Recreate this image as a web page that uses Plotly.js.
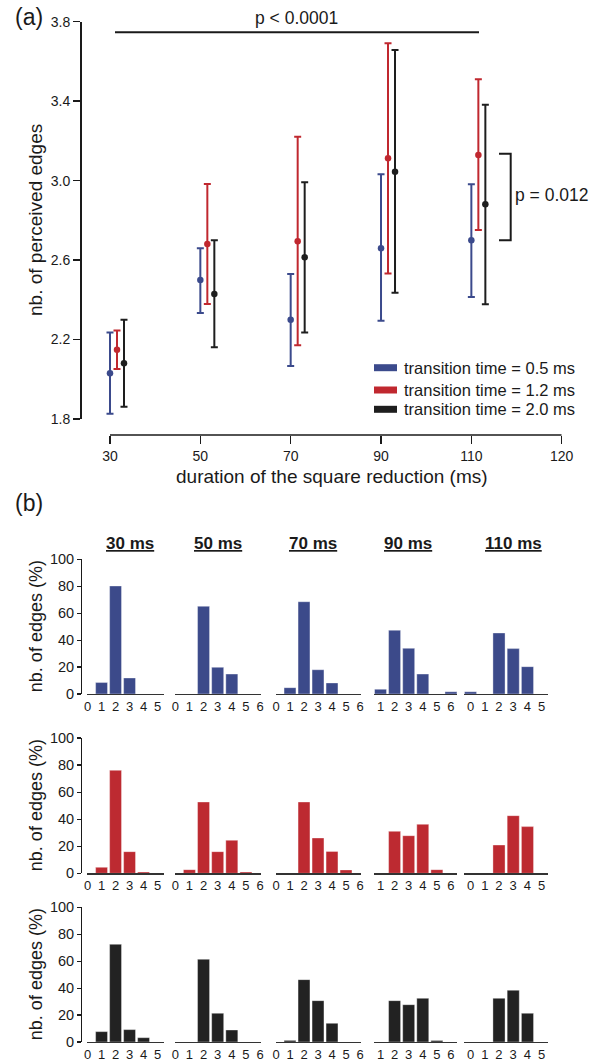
<!DOCTYPE html>
<html><head><meta charset="utf-8">
<script src="https://cdn.plot.ly/plotly-3.0.1.min.js"></script>
<style>html,body{margin:0;padding:0;background:#fff}</style>
</head><body><div id="chart" style="width:597px;height:1061px"></div>
<script>
// ---------- data : panel (a) ----------
const durations = ['30', '50', '70', '90', '110'];
const xTickLabels = ['30', '50', '70', '90', '110', '120'];
const yTickValsA = [1.8, 2.2, 2.6, 3.0, 3.4, 3.8];
const seriesNames = ['transition time = 0.5 ms', 'transition time = 1.2 ms', 'transition time = 2.0 ms'];
const mean05 = [2.03, 2.50, 2.30, 2.66, 2.70];
const upper05 = [2.236, 2.659, 2.530, 3.032, 2.982];
const lower05 = [1.826, 2.333, 2.067, 2.295, 2.414];
const mean12 = [2.148, 2.681, 2.695, 3.112, 3.129];
const upper12 = [2.245, 2.983, 3.221, 3.691, 3.510];
const lower12 = [2.052, 2.379, 2.171, 2.532, 2.752];
const mean20 = [2.081, 2.429, 2.614, 3.045, 2.881];
const upper20 = [2.299, 2.700, 2.992, 3.658, 3.382];
const lower20 = [1.862, 2.161, 2.235, 2.435, 2.378];
const pAllText = 'p < 0.0001';
const pTransText = 'p = 0.012';

// ---------- data : panel (b) ----------
const bins30 = [0, 1, 2, 3, 4, 5];
const bins50 = [0, 1, 2, 3, 4, 5, 6];
const bins70 = [0, 1, 2, 3, 4, 5, 6];
const bins90 = [1, 2, 3, 4, 5, 6];
const bins110 = [0, 1, 2, 3, 4, 5];
const yTickValsB = [0, 20, 40, 60, 80, 100];

const blue30 = [0, 8.5, 80.2, 11.9, 0, 0];
const blue50 = [0, 0, 65.1, 19.8, 14.8, 0, 0];
const blue70 = [0, 4.7, 68.5, 18.0, 8.2, 0, 0];
const blue90 = [3.5, 47.3, 33.9, 14.8, 0, 1.7];
const blue110 = [1.7, 0, 45.3, 33.7, 20.3, 0];

const red30 = [0, 4.4, 76.1, 16.0, 1.0, 0];
const red50 = [0, 2.7, 52.7, 16.0, 24.4, 1.0, 0];
const red70 = [0, 0, 52.7, 26.1, 16.2, 2.5, 0];
const red90 = [0, 31.0, 27.8, 36.2, 2.7, 0];
const red110 = [0, 0, 20.9, 42.6, 34.5, 0];

const black30 = [0, 7.7, 72.5, 9.2, 3.2, 0];
const black50 = [0, 0, 61.4, 21.3, 8.9, 0, 0];
const black70 = [0, 1.2, 46.3, 30.7, 13.9, 0, 0];
const black90 = [0, 30.7, 27.7, 32.4, 1.2, 0];
const black110 = [0, 0, 32.4, 38.4, 21.3, 0];

// ---------- styling / geometry ----------
const W = 597, H = 1061;
const FONT = '"Liberation Sans", Arial, Helvetica, sans-serif';
const TXT = '#1a1a1a';
const COLORS = ['#3b4a8c', '#c0282f', '#1e1e1e'];
const BARCOLORS = ['#3c4a8a', '#bd2a31', '#222222'];
const px = v => v / W;
const py = v => 1 - v / H;
const UNIT = 90.34;           // px per category step in panel (a)
const PADL = 0.12;            // extra range on the left so the first error bar is not clipped

const means = [mean05, mean12, mean20];
const uppers = [upper05, upper12, upper20];
const lowers = [lower05, lower12, lower20];
const offsets = [0, 0.0775, 0.155];

const traces = [];
means.forEach((m, k) => {
  traces.push({
    type: 'scatter', mode: 'markers', name: seriesNames[k],
    x: durations.map((d, i) => i + offsets[k]),
    y: m,
    marker: {color: COLORS[k], size: 6.5},
    error_y: {
      type: 'data', symmetric: false,
      array: uppers[k].map((u, i) => u - m[i]),
      arrayminus: lowers[k].map((l, i) => m[i] - l),
      color: COLORS[k], thickness: 2, width: 3.5
    },
    cliponaxis: false, showlegend: false, hoverinfo: 'skip',
    xaxis: 'x', yaxis: 'y'
  });
});

const binsList = [bins30, bins50, bins70, bins90, bins110];
const rowsData = [
  [blue30, blue50, blue70, blue90, blue110],
  [red30, red50, red70, red90, red110],
  [black30, black50, black70, black90, black110]
];
const colDomPx = [[87, 164], [175, 260.5], [276, 361], [374.3, 457.3], [464.3, 547.7]];
const colRanges = [[-0.04, 5.46], [-0.02, 6.03], [0, 6.07], [0.56, 6.45], [-0.435, 5.42]];
const rowDomPx = [[559.3, 694], [738, 873.3], [907.3, 1042]];
const colTitleX = [129.7, 217.8, 312.8, 408.3, 513];

const layout = {
  width: W, height: H,
  margin: {l: 0, r: 0, t: 0, b: 0},
  paper_bgcolor: '#fff', plot_bgcolor: 'rgba(0,0,0,0)',
  font: {family: FONT, color: TXT, size: 14},
  showlegend: false,
  bargap: 0,
  xaxis: {
    domain: [px(110 - PADL * UNIT), px(561.7)], range: [-PADL, 5],
    anchor: 'free', position: py(435),
    tickvals: xTickLabels.map((t, i) => i), ticktext: xTickLabels,
    ticks: 'outside', ticklen: 8, tickwidth: 1.5, tickcolor: TXT,
    showline: false,
    showgrid: false, zeroline: false, fixedrange: true,
    tickfont: {size: 14, family: FONT, color: TXT}
  },
  yaxis: {
    domain: [py(419), py(21.7)], range: [1.8, 3.8],
    anchor: 'free', position: px(80),
    tickvals: yTickValsA, ticktext: yTickValsA.map(v => v.toFixed(1)),
    ticks: 'outside', ticklen: 7, tickwidth: 1.5, tickcolor: TXT,
    showline: true, linewidth: 1.5, linecolor: TXT,
    showgrid: false, zeroline: false, fixedrange: true,
    tickfont: {size: 14, family: FONT, color: TXT}
  },
  shapes: [],
  annotations: []
};

// detached x-axis line of panel (a), from first to last tick
layout.shapes.push({
  type: 'line', xref: 'x', yref: 'paper', x0: 0, x1: xTickLabels.length - 1,
  y0: py(435), y1: py(435), line: {color: TXT, width: 1.5}
});

// panel b axes and traces
rowDomPx.forEach((rd, r) => {
  const yid = 2 + r;
  layout['yaxis' + yid] = {
    domain: [py(rd[1]), py(rd[0])], range: [0, 100],
    anchor: 'free', position: px(81),
    tickvals: yTickValsB,
    ticks: 'outside', ticklen: 4, tickwidth: 1.2, tickcolor: TXT,
    showline: true, linewidth: 1.3, linecolor: TXT,
    showgrid: false, zeroline: false, fixedrange: true,
    tickfont: {size: 14.5, family: FONT, color: TXT}
  };
  colDomPx.forEach((cd, c) => {
    const xid = 2 + r * 5 + c;
    layout['xaxis' + xid] = {
      domain: [px(cd[0]), px(cd[1])], range: colRanges[c],
      anchor: 'y' + yid,
      tickvals: binsList[c], ticks: '',
      showline: true, linewidth: 1.3, linecolor: '#333',
      showgrid: false, zeroline: false, fixedrange: true,
      tickfont: {size: 13, family: FONT, color: TXT}
    };
    traces.push({
      type: 'bar', x: binsList[c], y: rowsData[r][c],
      width: 0.85,
      marker: {color: BARCOLORS[r], line: {color: 'rgba(255,255,255,0.45)', width: 0.8}},
      xaxis: 'x' + xid, yaxis: 'y' + yid,
      showlegend: false, hoverinfo: 'skip'
    });
  });
  layout.annotations.push({
    xref: 'paper', yref: 'paper', x: px(35.5), y: py((rd[0] + rd[1]) / 2),
    text: 'nb. of edges (%)', textangle: -90, showarrow: false,
    xanchor: 'center', yanchor: 'middle',
    font: {size: 18, family: FONT, color: TXT}
  });
});

// column titles
durations.forEach((d, c) => {
  layout.annotations.push({
    xref: 'paper', yref: 'paper', x: px(colTitleX[c]), y: py(543),
    text: '<b><u>' + d + ' ms</u></b>', showarrow: false,
    xanchor: 'center', yanchor: 'middle',
    font: {size: 17, family: FONT, color: TXT}
  });
});

// panel a annotations
const toX = p => (p - 110) / UNIT;
layout.shapes.push({
  type: 'line', xref: 'x', yref: 'y', x0: toX(115), x1: toX(479), y0: 3.747, y1: 3.747,
  line: {color: TXT, width: 2}
});
layout.shapes.push({
  type: 'path', xref: 'x', yref: 'y',
  path: `M ${toX(499)},3.135 L ${toX(510.7)},3.135 L ${toX(510.7)},2.70 L ${toX(499)},2.70`,
  line: {color: TXT, width: 2}
});
layout.annotations.push(
  {xref: 'paper', yref: 'paper', x: px(296.5), y: py(18), text: pAllText, showarrow: false,
   xanchor: 'center', yanchor: 'middle', font: {size: 17.5, family: FONT, color: TXT}},
  {xref: 'paper', yref: 'paper', x: px(513), y: py(195), text: pTransText, showarrow: false,
   xanchor: 'left', yanchor: 'middle', font: {size: 17.5, family: FONT, color: TXT}},
  {xref: 'paper', yref: 'paper', x: px(13), y: py(17), text: '(a)', showarrow: false,
   xanchor: 'left', yanchor: 'middle', font: {size: 23, family: FONT, color: TXT}},
  {xref: 'paper', yref: 'paper', x: px(13), y: py(503), text: '(b)', showarrow: false,
   xanchor: 'left', yanchor: 'middle', font: {size: 23, family: FONT, color: TXT}},
  {xref: 'paper', yref: 'paper', x: px(35), y: py(220), text: 'nb. of perceived edges', textangle: -90,
   showarrow: false, xanchor: 'center', yanchor: 'middle', font: {size: 19, family: FONT, color: TXT}},
  {xref: 'paper', yref: 'paper', x: px(332), y: py(477), text: 'duration of the square reduction (ms)',
   showarrow: false, xanchor: 'center', yanchor: 'middle', font: {size: 19, family: FONT, color: TXT}}
);

// legend (manual)
const legY = [367.7, 390, 409.3];
seriesNames.forEach((n, k) => {
  layout.shapes.push({
    type: 'line', xref: 'paper', yref: 'paper', x0: px(374), x1: px(397), y0: py(legY[k]), y1: py(legY[k]),
    line: {color: COLORS[k], width: 7}
  });
  layout.annotations.push({
    xref: 'paper', yref: 'paper', x: px(402), y: py(legY[k]), text: n, showarrow: false,
    xanchor: 'left', yanchor: 'middle', font: {size: 16.5, family: FONT, color: TXT}
  });
});

Plotly.newPlot('chart', traces, layout, {displayModeBar: false, staticPlot: true});
</script></body></html>
